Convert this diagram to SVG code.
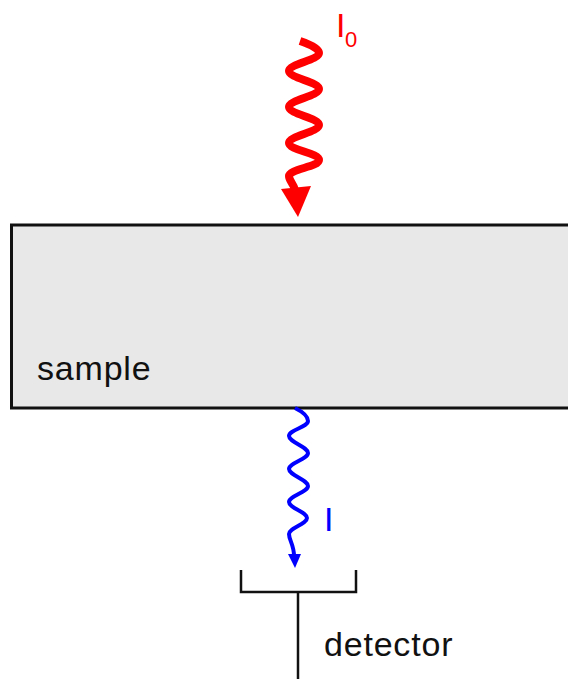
<svg xmlns="http://www.w3.org/2000/svg" width="568" height="679" viewBox="0 0 568 679">
<style>
.lbl{font-family:"Liberation Sans",Arial,sans-serif;font-size:34px;fill:#111;letter-spacing:0.8px}
.red{fill:none;stroke:#ff0000;stroke-width:8;stroke-linecap:butt;stroke-linejoin:round}
.blue{fill:none;stroke:#0000ff;stroke-width:4;stroke-linecap:butt;stroke-linejoin:round}
.ink{fill:none;stroke:#111;stroke-width:2.5}
</style>
<rect width="568" height="679" fill="#ffffff"/>
<g id="sample">
<rect x="11.5" y="225" width="570" height="183" fill="#e8e8e8" stroke="#111" stroke-width="3"/>
<text class="lbl" x="37" y="380">sample</text>
</g>
<g id="detector">
<path class="ink" d="M 241 570 V 592 H 356 V 570"/>
<path class="ink" d="M 298 592 V 679"/>
<text class="lbl" x="324" y="656">detector</text>
</g>
<g id="connectors">
<g id="incident-beam">
<path class="red" d="M 300 41 C 312 45, 319 49, 319 53 C 319 60, 289 64, 289 71 S 319 82, 319 89 S 289 100, 289 107 S 319 118, 319 125 S 289 136, 289 143 S 319 153, 319 160 S 289 169, 289 176 C 289 181, 294 184, 295 190"/>
<polygon points="281,189 311,186 298,217" fill="#ff0000"/>
</g>
<g id="transmitted-beam">
<path class="blue" d="M 295 408 C 303 412, 308 416, 308 421 C 308 427, 289 430, 289 436 S 308 447, 308 453 S 289 463, 289 469 S 308 480, 308 486 S 289 496, 289 502 S 307 512, 307 518 S 289 528, 289 534 C 289 540, 294 545, 294 556"/>
<polygon points="288,554 301,554 295,568" fill="#0000ff"/>
</g>
</g>
<g id="labels">
<text x="336" y="37" font-family="Liberation Sans, Arial, sans-serif" font-size="34" fill="#ff0000">I</text>
<text x="345" y="47" font-family="Liberation Sans, Arial, sans-serif" font-size="22" fill="#ff0000">0</text>
<text x="324" y="531" font-family="Liberation Sans, Arial, sans-serif" font-size="34" fill="#0000ff">I</text>
</g>
</svg>
